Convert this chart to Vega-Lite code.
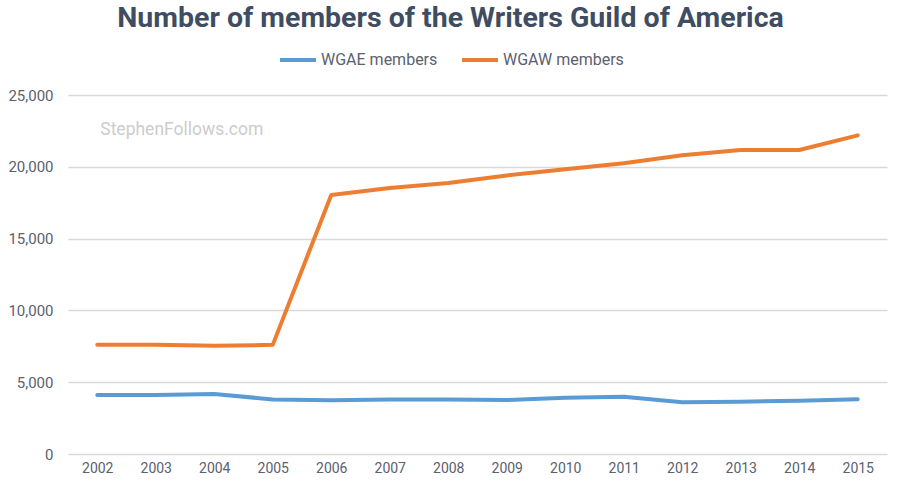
{
  "$schema": "https://vega.github.io/schema/vega-lite/v6.json",
  "autosize": {"type": "none"},
  "width": 819,
  "height": 359,
  "padding": {"left": 68, "top": 95, "right": 13, "bottom": 33},
  "background": "white",
  "title": {
    "text": "Number of members of the Writers Guild of America",
    "font": "Roboto",
    "fontWeight": "bold",
    "fontSize": 28.5,
    "color": "#3f4d63",
    "anchor": "middle",
    "frame": "group",
    "dx": -27,
    "offset": 8
  },
  "datasets": {
    "members": [
      {"year": "2002", "series": "WGAE members", "value": 4110},
      {"year": "2003", "series": "WGAE members", "value": 4110},
      {"year": "2004", "series": "WGAE members", "value": 4180},
      {"year": "2005", "series": "WGAE members", "value": 3800},
      {"year": "2006", "series": "WGAE members", "value": 3740},
      {"year": "2007", "series": "WGAE members", "value": 3790},
      {"year": "2008", "series": "WGAE members", "value": 3790},
      {"year": "2009", "series": "WGAE members", "value": 3760},
      {"year": "2010", "series": "WGAE members", "value": 3920},
      {"year": "2011", "series": "WGAE members", "value": 3990},
      {"year": "2012", "series": "WGAE members", "value": 3600},
      {"year": "2013", "series": "WGAE members", "value": 3640},
      {"year": "2014", "series": "WGAE members", "value": 3710},
      {"year": "2015", "series": "WGAE members", "value": 3810},
      {"year": "2002", "series": "WGAW members", "value": 7600},
      {"year": "2003", "series": "WGAW members", "value": 7600},
      {"year": "2004", "series": "WGAW members", "value": 7530},
      {"year": "2005", "series": "WGAW members", "value": 7600},
      {"year": "2006", "series": "WGAW members", "value": 18040},
      {"year": "2007", "series": "WGAW members", "value": 18520},
      {"year": "2008", "series": "WGAW members", "value": 18870},
      {"year": "2009", "series": "WGAW members", "value": 19400},
      {"year": "2010", "series": "WGAW members", "value": 19830},
      {"year": "2011", "series": "WGAW members", "value": 20240},
      {"year": "2012", "series": "WGAW members", "value": 20800},
      {"year": "2013", "series": "WGAW members", "value": 21170},
      {"year": "2014", "series": "WGAW members", "value": 21170},
      {"year": "2015", "series": "WGAW members", "value": 22190}
    ],
    "watermark": [
      {"year": "2002", "value": 22560, "label": "StephenFollows.com"}
    ]
  },
  "layer": [
    {
      "data": {"name": "members"},
      "mark": {"type": "line", "strokeWidth": 4, "strokeCap": "round", "strokeJoin": "round"},
      "encoding": {
        "x": {
          "field": "year",
          "type": "ordinal",
          "scale": {"type": "point", "padding": 0.5},
          "axis": {
            "title": null,
            "labelAngle": 0,
            "domain": false,
            "ticks": false,
            "grid": false,
            "labelFont": "Roboto",
            "labelFontSize": 14,
            "labelColor": "#5b6170",
            "labelPadding": 7
          }
        },
        "y": {
          "field": "value",
          "type": "quantitative",
          "scale": {"domain": [0, 25000], "nice": false},
          "axis": {
            "title": null,
            "values": [0, 5000, 10000, 15000, 20000, 25000],
            "format": ",d",
            "domain": false,
            "ticks": false,
            "grid": true,
            "gridColor": "#d9d9d9",
            "gridWidth": 1.5,
            "labelFont": "Roboto",
            "labelFontSize": 15,
            "labelColor": "#5b6170",
            "labelPadding": 15
          }
        },
        "color": {
          "field": "series",
          "type": "nominal",
          "scale": {"domain": ["WGAE members", "WGAW members"], "range": ["#5b9bd5", "#ed7d31"]},
          "legend": {
            "title": null,
            "orient": "none",
            "direction": "horizontal",
            "legendX": 210,
            "legendY": -55,
            "symbolType": "stroke",
            "symbolSize": 1296,
            "symbolStrokeWidth": 4,
            "labelFont": "Roboto",
            "labelFontSize": 16,
            "labelColor": "#5b6170",
            "labelOffset": 3,
            "columnPadding": 16
          }
        }
      }
    },
    {
      "data": {"name": "watermark"},
      "mark": {"type": "text", "align": "left", "baseline": "middle", "dx": 3, "font": "Roboto", "fontSize": 17.5, "color": "#cccccc"},
      "encoding": {
        "x": {"field": "year", "type": "ordinal"},
        "y": {"field": "value", "type": "quantitative"},
        "text": {"field": "label"}
      }
    }
  ],
  "config": {"view": {"stroke": null}}
}
